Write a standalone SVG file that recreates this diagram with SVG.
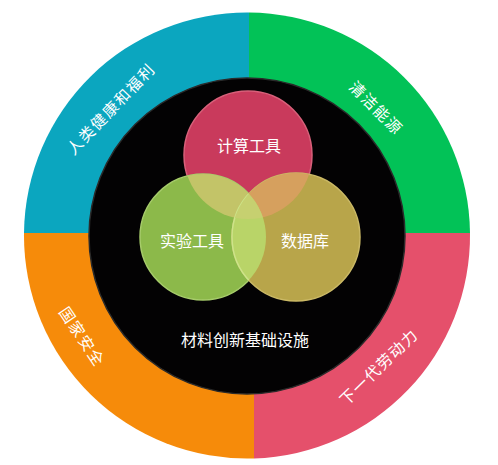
<svg xmlns="http://www.w3.org/2000/svg" width="498" height="465" viewBox="0 0 498 465">
<style>
.t{font-family:"Noto Sans CJK SC","Noto Sans",sans-serif;font-size:16px;fill:#fff;text-anchor:middle;dominant-baseline:central}
.ring{font-size:15.5px;letter-spacing:1.5px}
.c{stroke-width:1.5}
</style>
<defs>
<clipPath id="cpR"><circle cx="248" cy="155" r="64"/></clipPath>
<clipPath id="cpG"><circle cx="203" cy="237" r="63"/></clipPath>
</defs>
<rect width="498" height="465" fill="#fff"/>
<g id="ring">
<g id="seg-health"><path d="M249,234 L249,12.5 A223,223 0 0,0 24,233 Z" fill="#0ba6bf"/>
<text class="t ring" transform="translate(110,108) rotate(-46)">人类健康和福利</text></g>
<g id="seg-energy"><path d="M249,234 L249,12.5 A223,223 0 0,1 470,233 Z" fill="#02c257"/>
<text class="t ring" transform="translate(377,107) rotate(45)">清洁能源</text></g>
<g id="seg-workforce"><path d="M249,233 L470,233 A223,223 0 0,1 254,458.4 L254,233 Z" fill="#e5506b"/>
<text class="t ring" transform="translate(378,366) rotate(-44)">下一代劳动力</text></g>
<g id="seg-security"><path d="M24,233 A223,223 0 0,0 254,458.4 L254,233 Z" fill="#f68b0a"/>
<text class="t ring" transform="translate(83,336) rotate(56)">国家安全</text></g>
</g>
<g id="core">
<circle cx="247" cy="236" r="158" fill="#030203" stroke="#2a2a2a" stroke-width="1.5"/>
<text class="t" x="245" y="339">材料创新基础设施</text>
</g>
<g id="venn">
<g id="node-compute"><circle class="c" cx="248" cy="155" r="64" fill="#c93a5c" stroke="#d8607a"/></g>
<g id="node-experiment"><circle class="c" cx="203" cy="237" r="63" fill="#8cb94a" stroke="#a6cc6a"/></g>
<g id="node-database"><circle class="c" cx="296" cy="237" r="64" fill="#b8a54a" stroke="#cbb965"/></g>
<circle cx="203" cy="237" r="63" fill="#c3c468" clip-path="url(#cpR)"/>
<circle cx="296" cy="237" r="64" fill="#d6a05e" clip-path="url(#cpR)"/>
<circle cx="296" cy="237" r="64" fill="#b9d468" stroke="#cde48a" stroke-width="1.5" clip-path="url(#cpG)"/>
<g clip-path="url(#cpR)"><circle cx="296" cy="237" r="64" fill="#c6d070" clip-path="url(#cpG)"/></g>
<text class="t" x="249" y="145">计算工具</text>
<text class="t" x="192" y="240">实验工具</text>
<text class="t" x="305" y="240">数据库</text>
</g>
</svg>
